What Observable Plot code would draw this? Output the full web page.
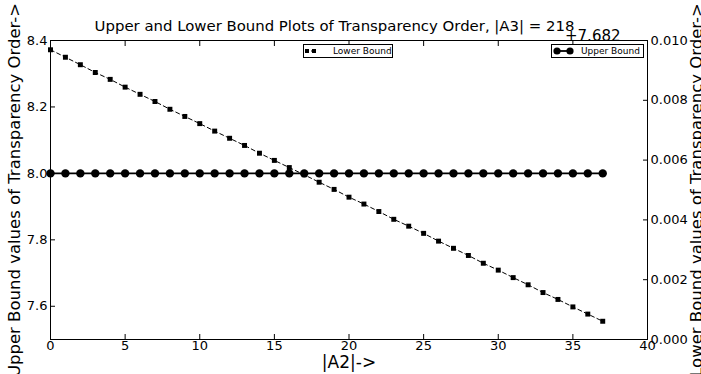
<!DOCTYPE html>
<html>
<head>
<meta charset="utf-8">
<script src="https://cdn.jsdelivr.net/npm/d3@7"></script>
<script src="https://cdn.jsdelivr.net/npm/@observablehq/plot@0.6"></script>
<style>
  html, body { margin: 0; padding: 0; background: #fff; }
  #wrap { position: relative; width: 701px; height: 374px; overflow: hidden; font-family: "DejaVu Sans", sans-serif; }
  .leg { position: absolute; box-sizing: border-box; border: 1px solid #000; background: #fff; height: 14px; }
  .leg svg { position: absolute; left: 0; top: 1px; }
  .leg span { position: absolute; top: 1px; font-size: 9px; line-height: 10px; color: #000; white-space: nowrap; }
  .offset { position: absolute; font-size: 15px; line-height: 1; color: #000; white-space: nowrap; }
</style>
</head>
<body>
<div id="wrap"></div>
<script>
// ---- data ----
const a2 = [0,1,2,3,4,5,6,7,8,9,10,11,12,13,14,15,16,17,18,19,20,21,22,23,24,25,26,27,28,29,30,31,32,33,34,35,36,37];
const upperBound = [8.0,8.0,8.0,8.0,8.0,8.0,8.0,8.0,8.0,8.0,8.0,8.0,8.0,8.0,8.0,8.0,8.0,8.0,8.0,8.0,
                    8.0,8.0,8.0,8.0,8.0,8.0,8.0,8.0,8.0,8.0,8.0,8.0,8.0,8.0,8.0,8.0,8.0,8.0];
const lowerBound = [7.69169,7.69144,7.69119,7.69093,7.69070,7.69044,7.69020,7.68996,7.68970,7.68946,
                    7.68922,7.68897,7.68873,7.68849,7.68823,7.68799,7.68775,7.68751,7.68726,7.68702,
                    7.68676,7.68653,7.68628,7.68602,7.68579,7.68555,7.68529,7.68505,7.68481,7.68455,
                    7.68432,7.68407,7.68383,7.68357,7.68334,7.68309,7.68285,7.68261];
const lowerOffset = 7.682;
const lowerOffsetLabel = "+7.682";
const xTicks = [0,5,10,15,20,25,30,35,40];
const leftTicks = [7.6,7.8,8.0,8.2,8.4];
const leftTickLabels = ["7.6","7.8","8.0","8.2","8.4"];
const rightTicks = [0.000,0.002,0.004,0.006,0.008,0.010];
const rightTickLabels = ["0.000","0.002","0.004","0.006","0.008","0.010"];
const leftDomain = [7.5, 8.4];
const rightDomain = [0.000, 0.010];
const xDomain = [0, 40];
const titleText = "Upper and Lower Bound Plots of Transparency Order, |A3| = 218";
const xLabel = "|A2|->";
const leftLabel = "Upper Bound values of Transparency Order->";
const rightLabel = "Lower Bound values of Transparency Order->";
const seriesNames = ["Lower Bound", "Upper Bound"];

// map right-axis value (offset removed) onto the left scale
const rightToLeft = v => leftDomain[0] + (v - rightDomain[0]) / (rightDomain[1] - rightDomain[0]) * (leftDomain[1] - leftDomain[0]);

const upperData = a2.map((x, i) => ({x, y: upperBound[i]}));
const lowerData = a2.map((x, i) => ({x, y: rightToLeft(lowerBound[i] - lowerOffset)}));
const rightTickPos = rightTicks.map(rightToLeft);

const fmtLeft = d => leftTickLabels[leftTicks.findIndex(t => Math.abs(t - d) < 1e-9)];
const fmtRight = d => rightTickLabels[rightTickPos.findIndex(t => Math.abs(t - d) < 1e-9)];
const blank = () => "";

const chart = Plot.plot({
  width: 701, height: 374,
  marginLeft: 50, marginRight: 54, marginTop: 40, marginBottom: 35,
  style: { fontFamily: "DejaVu Sans", fontSize: "13px", color: "black", background: "white", overflow: "visible" },
  x: { domain: xDomain },
  y: { domain: leftDomain },
  marks: [
    // inward tick marks
    Plot.axisX({ anchor: "bottom", ticks: xTicks, tickSize: 5, dy: -5, tickFormat: blank, label: null }),
    Plot.axisX({ anchor: "top", ticks: xTicks, tickSize: 5, dy: 5, tickFormat: blank, label: null }),
    Plot.axisY({ anchor: "left", ticks: leftTicks, tickSize: 5, dx: 5, tickFormat: blank, label: null }),
    Plot.axisY({ anchor: "right", ticks: rightTickPos, tickSize: 5, dx: -5, tickFormat: blank, label: null }),
    // tick labels
    Plot.axisX({ anchor: "bottom", ticks: xTicks, tickSize: 0, tickPadding: 1, tickFormat: d => String(d), label: null, fontSize: 13 }),
    Plot.axisY({ anchor: "left", ticks: leftTicks, tickSize: 0, tickPadding: 3, tickFormat: fmtLeft, label: null, fontSize: 13 }),
    Plot.axisY({ anchor: "right", ticks: rightTickPos, tickSize: 0, tickPadding: 3, tickFormat: fmtRight, label: null, fontSize: 13 }),
    Plot.frame({ stroke: "black", strokeWidth: 1 }),
    // lower bound series
    Plot.line(lowerData, { x: "x", y: "y", stroke: "black", strokeWidth: 1, strokeDasharray: "4,3" }),
    Plot.dot(lowerData, { x: "x", y: "y", symbol: "square", r: 2.8, fill: "black", stroke: "none" }),
    // upper bound series
    Plot.line(upperData, { x: "x", y: "y", stroke: "black", strokeWidth: 1.8 }),
    Plot.dot(upperData, { x: "x", y: "y", symbol: "circle", r: 4.2, fill: "black", stroke: "none" }),
    // texts
    Plot.text([titleText], { text: d => d, frameAnchor: "top", dx: -14.5, dy: -10, lineAnchor: "bottom", textAnchor: "middle", fontSize: 14.9 }),
    Plot.text([xLabel], { text: d => d, frameAnchor: "bottom", dy: 16, lineAnchor: "top", textAnchor: "middle", fontSize: 17 }),
    Plot.text([leftLabel], { text: d => d, frameAnchor: "left", rotate: -90, dx: -31, lineAnchor: "bottom", textAnchor: "middle", fontSize: 16.5 }),
    Plot.text([rightLabel], { text: d => d, frameAnchor: "right", rotate: -90, dx: 43, lineAnchor: "top", textAnchor: "middle", fontSize: 16.5 })
  ]
});

const wrap = document.getElementById("wrap");
wrap.appendChild(chart);

// axis offset text (matplotlib offset label), placed just after the title
const off = document.createElement("div");
off.className = "offset";
off.textContent = lowerOffsetLabel;
off.style.left = "565px";
off.style.top = "29px";
wrap.appendChild(off);

// legends (matplotlib-style boxes)
const ns = "http://www.w3.org/2000/svg";
function el(tag, attrs) {
  const e = document.createElementNS(ns, tag);
  for (const k in attrs) e.setAttribute(k, attrs[k]);
  return e;
}
function legend(name, kind, left, width, m1, m2, textLeft) {
  const div = document.createElement("div");
  div.className = "leg";
  div.style.left = left + "px"; div.style.top = "44px"; div.style.width = width + "px";
  const svg = el("svg", { width: textLeft, height: 10 });
  if (kind === "circle") {
    svg.appendChild(el("line", { x1: m1, x2: m2, y1: 5, y2: 5, stroke: "black", "stroke-width": 1.8 }));
    for (const cx of [m1, m2]) svg.appendChild(el("circle", { cx, cy: 5, r: 3.6, fill: "black" }));
  } else {
    svg.appendChild(el("line", { x1: m1, x2: m2, y1: 5, y2: 5, stroke: "black", "stroke-width": 1, "stroke-dasharray": "2,2" }));
    for (const cx of [m1, m2]) svg.appendChild(el("rect", { x: cx - 2, y: 3, width: 4, height: 4, fill: "black" }));
  }
  div.appendChild(svg);
  const span = document.createElement("span");
  span.textContent = name;
  span.style.left = textLeft + "px";
  div.appendChild(span);
  wrap.appendChild(div);
}
legend(seriesNames[0], "square", 303, 90, 3, 10, 29);
legend(seriesNames[1], "circle", 551, 93, 5, 18, 29);
</script>
</body>
</html>
